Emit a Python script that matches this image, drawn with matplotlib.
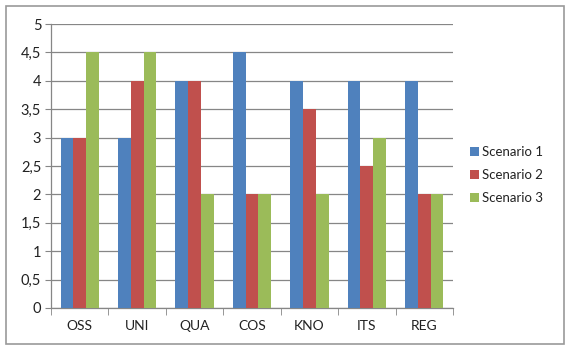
import numpy as np
import matplotlib.pyplot as plt
from matplotlib.patches import Rectangle

categories = ['OSS', 'UNI', 'QUA', 'COS', 'KNO', 'ITS', 'REG']
scenario1 = [3, 3, 4, 4.5, 4, 4, 4]
scenario2 = [3, 4, 4, 2, 3.5, 2.5, 2]
scenario3 = [4.5, 4.5, 2, 2, 2, 3, 2]
series_names = ['Scenario 1', 'Scenario 2', 'Scenario 3']
yticks = [0, 0.5, 1, 1.5, 2, 2.5, 3, 3.5, 4, 4.5, 5]
ytick_labels = ['0', '0,5', '1', '1,5', '2', '2,5', '3', '3,5', '4', '4,5', '5']

colors = ['#4F81BD', '#C0504D', '#9BBB59']

plt.rcParams['font.family'] = ['Lato', 'DejaVu Sans']

fig = plt.figure(figsize=(5.67, 3.47), dpi=100)
ax = fig.add_axes([0.0899, 0.1124, 0.7091, 0.8184])

x = np.arange(len(categories))
w = 1 / 4.5
for i, (vals, name) in enumerate(zip([scenario1, scenario2, scenario3], series_names)):
    ax.bar(x + (i - 1) * w, vals, width=w, color=colors[i], label=name, zorder=3)

ax.set_xlim(-0.5, len(categories) - 0.5)
ax.set_ylim(0, 5)
ax.set_yticks(yticks)
ax.set_yticklabels(ytick_labels)
ax.set_xticks(x)
ax.set_xticklabels(categories)
ax.set_xticks(np.arange(-0.5, len(categories)), minor=True)
ax.tick_params(axis='x', which='major', length=0, pad=9, labelsize=10, colors='#222222')
ax.tick_params(axis='x', which='minor', length=5, color='#868686', direction='out')
ax.tick_params(axis='y', length=4, color='#868686', labelsize=10.5, colors='#222222', pad=3)
ax.grid(axis='y', color='#868686', linewidth=0.9, zorder=0)

for side in ['top', 'right']:
    ax.spines[side].set_visible(False)
for side in ['left', 'bottom']:
    ax.spines[side].set_color('#868686')
    ax.spines[side].set_linewidth(0.9)

leg = fig.legend(loc='upper left', bbox_to_anchor=(0.82, 0.595), frameon=False,
                 handlelength=0.65, handleheight=0.65, handletextpad=0.25,
                 labelspacing=0.85, fontsize=9.5, borderaxespad=0)
for t in leg.get_texts():
    t.set_color('#222222')

# chart frame
fig.patches.append(Rectangle((0.011, 0.008), 0.984, 0.976, transform=fig.transFigure,
                             fill=False, edgecolor='#9a9a9a', linewidth=1.2))

fig.savefig('out.png', dpi=100)
